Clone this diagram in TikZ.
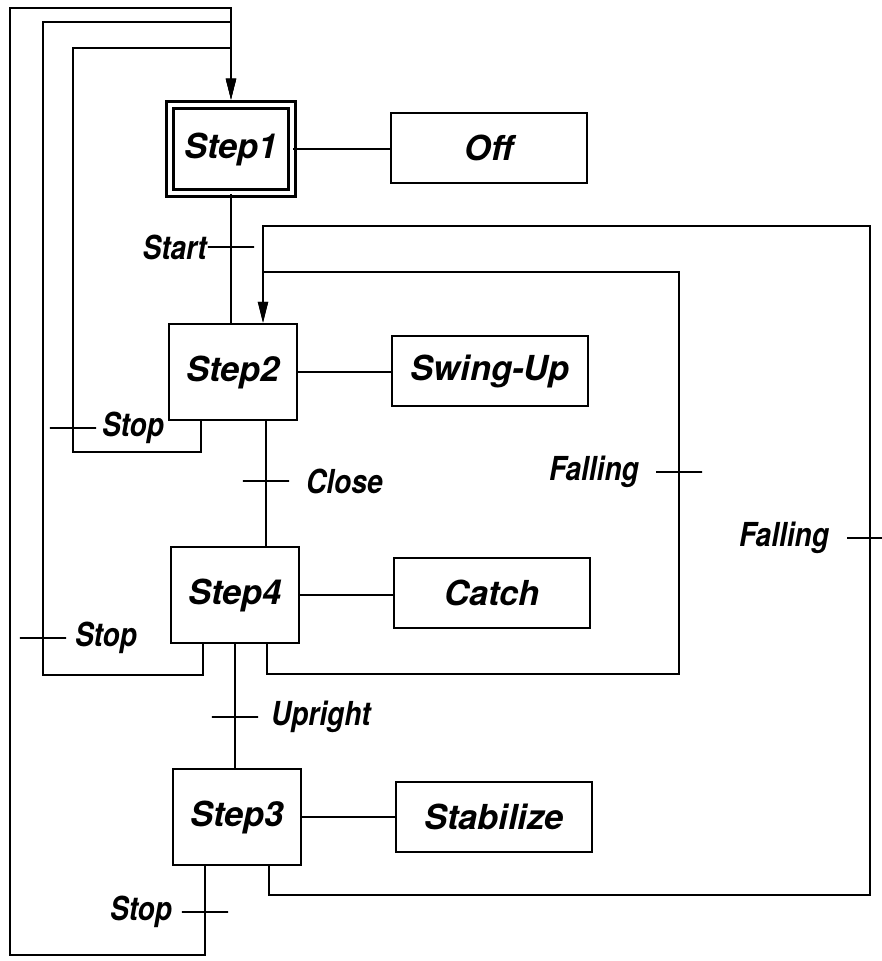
\documentclass[tikz,border=0pt]{standalone}
\usepackage{fontspec}
\newfontfamily\stepfont{TeX Gyre Heros}
\newfontfamily\condfont{TeX Gyre Heros}[FakeStretch=0.85]
\usetikzlibrary{arrows.meta,calc}

\begin{document}
\begin{tikzpicture}[x=0.025cm, y=-0.025cm, >={Triangle[width=7pt,length=15pt]},
  line width=1.6pt,
  stepbox/.style={draw, minimum width=3.2cm, minimum height=2.4cm, inner sep=0pt,
    font=\stepfont\fontsize{24.5}{29}\selectfont\bfseries\itshape},
  initstep/.style={stepbox, double, double distance=3.4pt, minimum width=3.05cm, minimum height=2.2cm},
  action/.style={draw, minimum width=4.9cm, minimum height=1.75cm, inner sep=0pt,
    font=\stepfont\fontsize{24.5}{29}\selectfont\bfseries\itshape},
  tick/.style={draw, rectangle, minimum width=1.15cm, minimum height=0pt, inner sep=0pt, outer sep=0pt},
  every label/.style={inner sep=0pt, font=\condfont\fontsize{23.5}{28}\selectfont\bfseries\itshape}]
  \useasboundingbox (0,0) rectangle (882,961);

  % steps and actions
  \node[initstep] (s1) at (231,149) {Step1};
  \node[stepbox]  (s2) at (233,372) {Step2};
  \node[stepbox]  (s4) at (235,595) {Step4};
  \node[stepbox]  (s3) at (237,817) {Step3};
  \node[action] (off)   at (489,148) {Off};
  \node[action] (swing) at (490,371) {Swing-Up};
  \node[action] (catch) at (492,593) {Catch};
  \node[action] (stab)  at (494,817) {Stabilize};
  \draw (s1.east) -- (s1.east -| off.west);
  \draw (s2.east) -- (s2.east -| swing.west);
  \draw (s4.east) -- (s4.east -| catch.west);
  \draw (s3.east) -- (s3.east -| stab.west);

  % main sequence
  \draw (s1.south) -- (s1.south |- s2.north);
  \draw ($(s2.south)+(33,0)$) -- ($(s4.north)+(31,0)$);
  \draw (s4.south) -- (s4.south |- s3.north);

  % back to Step1
  \draw[->, shorten >=3pt] ($(s2.south)+(-32,0)$) |- (73,452) |- (s1.north |- 0,48) -- (s1.north);
  \draw[->, shorten >=3pt] ($(s4.south)+(-32,0)$) |- (43,675) |- (s1.north |- 0,22) -- (s1.north);
  \draw[->, shorten >=3pt] ($(s3.south)+(-32,0)$) |- (10,955) |- (s1.north |- 0,8) -- (s1.north);

  % back to Step2
  \draw[->] ($(s4.south)+(32,0)$) |- (679,674) |- (263,272) -- ($(s2.north)+(30,0)$);
  \draw[->] ($(s3.south)+(32,0)$) |- (870,895) |- (263,226) -- ($(s2.north)+(30,0)$);

  % transitions
  \node[tick, label={[label distance=0cm]left:Start}]         (t1) at (231,247) {};
  \node[tick, label={[label distance=0.125cm]right:Stop}]     (t2) at (73,428) {};
  \node[tick, label={[label distance=0.4cm]right:Close}]      (t3) at (266,481) {};
  \node[tick, label={[label distance=0.4cm]left:Falling}]     (t4) at (679,472) {};
  \node[tick, label={[label distance=0.2cm]right:Stop}]       (t5) at (43,638) {};
  \node[tick, label={[label distance=0.3cm]right:Upright}]    (t6) at (235,717) {};
  \node[tick, label={[label distance=0.22cm]left:Stop}]       (t7) at (205,912) {};
  \node[tick, label={[label distance=0.42cm]left:Falling}]    (t8) at (870,538) {};
\end{tikzpicture}
\end{document}
